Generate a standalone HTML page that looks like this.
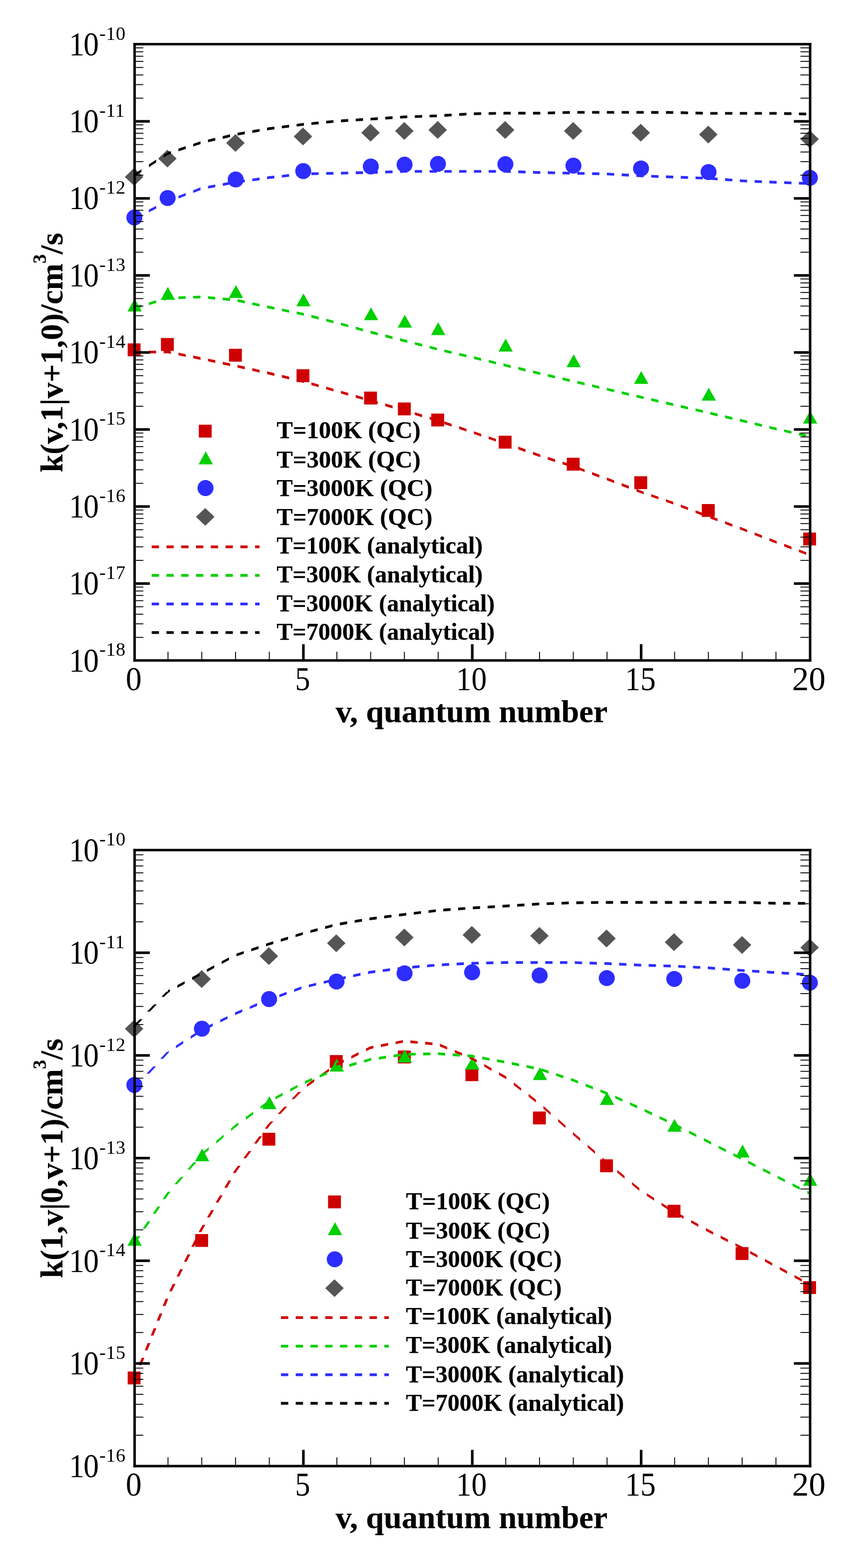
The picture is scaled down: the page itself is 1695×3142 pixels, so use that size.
<!DOCTYPE html>
<html lang="en"><head><meta charset="utf-8"><title>Rate coefficients vs quantum number</title>
<style>
html,body{margin:0;padding:0;background:#fff}
body{width:1695px;height:3142px;overflow:hidden}
svg{display:block}
text{font-family:"Liberation Serif","DejaVu Serif",serif;fill:#000}
.b{font-weight:bold}
.b{stroke:#000;stroke-width:0.25px}
</style></head><body>
<svg width="1695" height="3142" viewBox="0 0 1695 3142">
<rect width="1695" height="3142" fill="#fff"/>
<rect x="255.80" y="688.10" width="25.80" height="25.80" fill="#cf0000"/>
<rect x="322.47" y="677.30" width="25.80" height="25.80" fill="#cf0000"/>
<rect x="458.81" y="698.90" width="25.80" height="25.80" fill="#cf0000"/>
<rect x="594.15" y="739.90" width="25.80" height="25.80" fill="#cf0000"/>
<rect x="729.49" y="784.70" width="25.80" height="25.80" fill="#cf0000"/>
<rect x="797.16" y="806.50" width="25.80" height="25.80" fill="#cf0000"/>
<rect x="864.03" y="828.70" width="25.80" height="25.80" fill="#cf0000"/>
<rect x="999.17" y="873.10" width="25.80" height="25.80" fill="#cf0000"/>
<rect x="1135.51" y="917.30" width="25.80" height="25.80" fill="#cf0000"/>
<rect x="1270.85" y="954.30" width="25.80" height="25.80" fill="#cf0000"/>
<rect x="1406.19" y="1010.00" width="25.80" height="25.80" fill="#cf0000"/>
<rect x="1609.20" y="1067.20" width="25.80" height="25.80" fill="#cf0000"/>
<polygon points="269.70,598.50 284.00,624.30 255.40,624.30" fill="#00cf00"/>
<polygon points="336.37,574.90 350.67,600.70 322.07,600.70" fill="#00cf00"/>
<polygon points="472.71,571.20 487.01,597.00 458.41,597.00" fill="#00cf00"/>
<polygon points="608.05,587.90 622.35,613.70 593.75,613.70" fill="#00cf00"/>
<polygon points="743.39,615.80 757.69,641.60 729.09,641.60" fill="#00cf00"/>
<polygon points="811.06,630.70 825.36,656.50 796.76,656.50" fill="#00cf00"/>
<polygon points="877.93,645.70 892.23,671.50 863.63,671.50" fill="#00cf00"/>
<polygon points="1013.07,678.60 1027.37,704.40 998.77,704.40" fill="#00cf00"/>
<polygon points="1149.41,710.00 1163.71,735.80 1135.11,735.80" fill="#00cf00"/>
<polygon points="1284.75,743.40 1299.05,769.20 1270.45,769.20" fill="#00cf00"/>
<polygon points="1420.09,776.90 1434.39,802.70 1405.79,802.70" fill="#00cf00"/>
<polygon points="1623.10,822.90 1637.40,848.70 1608.80,848.70" fill="#00cf00"/>
<polygon points="285.09,439.06 282.67,444.90 278.20,449.37 272.36,451.79 266.04,451.79 260.20,449.37 255.73,444.90 253.31,439.06 253.31,432.74 255.73,426.90 260.20,422.43 266.04,420.01 272.36,420.01 278.20,422.43 282.67,426.90 285.09,432.74" fill="#2d2dff"/>
<polygon points="351.76,399.96 349.34,405.80 344.87,410.27 339.03,412.69 332.71,412.69 326.87,410.27 322.40,405.80 319.98,399.96 319.98,393.64 322.40,387.80 326.87,383.33 332.71,380.91 339.03,380.91 344.87,383.33 349.34,387.80 351.76,393.64" fill="#2d2dff"/>
<polygon points="488.10,362.86 485.68,368.70 481.21,373.17 475.37,375.59 469.05,375.59 463.21,373.17 458.74,368.70 456.32,362.86 456.32,356.54 458.74,350.70 463.21,346.23 469.05,343.81 475.37,343.81 481.21,346.23 485.68,350.70 488.10,356.54" fill="#2d2dff"/>
<polygon points="623.44,345.96 621.02,351.80 616.55,356.27 610.71,358.69 604.39,358.69 598.55,356.27 594.08,351.80 591.66,345.96 591.66,339.64 594.08,333.80 598.55,329.33 604.39,326.91 610.71,326.91 616.55,329.33 621.02,333.80 623.44,339.64" fill="#2d2dff"/>
<polygon points="758.78,336.76 756.36,342.60 751.89,347.07 746.05,349.49 739.73,349.49 733.89,347.07 729.42,342.60 727.00,336.76 727.00,330.44 729.42,324.60 733.89,320.13 739.73,317.71 746.05,317.71 751.89,320.13 756.36,324.60 758.78,330.44" fill="#2d2dff"/>
<polygon points="826.45,333.06 824.03,338.90 819.56,343.37 813.72,345.79 807.40,345.79 801.56,343.37 797.09,338.90 794.67,333.06 794.67,326.74 797.09,320.90 801.56,316.43 807.40,314.01 813.72,314.01 819.56,316.43 824.03,320.90 826.45,326.74" fill="#2d2dff"/>
<polygon points="893.32,331.56 890.90,337.40 886.43,341.87 880.59,344.29 874.27,344.29 868.43,341.87 863.96,337.40 861.54,331.56 861.54,325.24 863.96,319.40 868.43,314.93 874.27,312.51 880.59,312.51 886.43,314.93 890.90,319.40 893.32,325.24" fill="#2d2dff"/>
<polygon points="1028.46,332.16 1026.04,338.00 1021.57,342.47 1015.73,344.89 1009.41,344.89 1003.57,342.47 999.10,338.00 996.68,332.16 996.68,325.84 999.10,320.00 1003.57,315.53 1009.41,313.11 1015.73,313.11 1021.57,315.53 1026.04,320.00 1028.46,325.84" fill="#2d2dff"/>
<polygon points="1164.80,335.06 1162.38,340.90 1157.91,345.37 1152.07,347.79 1145.75,347.79 1139.91,345.37 1135.44,340.90 1133.02,335.06 1133.02,328.74 1135.44,322.90 1139.91,318.43 1145.75,316.01 1152.07,316.01 1157.91,318.43 1162.38,322.90 1164.80,328.74" fill="#2d2dff"/>
<polygon points="1300.14,340.76 1297.72,346.60 1293.25,351.07 1287.41,353.49 1281.09,353.49 1275.25,351.07 1270.78,346.60 1268.36,340.76 1268.36,334.44 1270.78,328.60 1275.25,324.13 1281.09,321.71 1287.41,321.71 1293.25,324.13 1297.72,328.60 1300.14,334.44" fill="#2d2dff"/>
<polygon points="1435.48,347.96 1433.06,353.80 1428.59,358.27 1422.75,360.69 1416.43,360.69 1410.59,358.27 1406.12,353.80 1403.70,347.96 1403.70,341.64 1406.12,335.80 1410.59,331.33 1416.43,328.91 1422.75,328.91 1428.59,331.33 1433.06,335.80 1435.48,341.64" fill="#2d2dff"/>
<polygon points="1638.49,359.46 1636.07,365.30 1631.60,369.77 1625.76,372.19 1619.44,372.19 1613.60,369.77 1609.13,365.30 1606.71,359.46 1606.71,353.14 1609.13,347.30 1613.60,342.83 1619.44,340.41 1625.76,340.41 1631.60,342.83 1636.07,347.30 1638.49,353.14" fill="#2d2dff"/>
<polygon points="268.70,336.70 287.20,354.50 268.70,372.30 250.20,354.50" fill="#555555"/>
<polygon points="335.37,300.00 353.87,317.80 335.37,335.60 316.87,317.80" fill="#555555"/>
<polygon points="471.71,268.70 490.21,286.50 471.71,304.30 453.21,286.50" fill="#555555"/>
<polygon points="607.05,255.60 625.55,273.40 607.05,291.20 588.55,273.40" fill="#555555"/>
<polygon points="742.39,248.10 760.89,265.90 742.39,283.70 723.89,265.90" fill="#555555"/>
<polygon points="810.06,244.60 828.56,262.40 810.06,280.20 791.56,262.40" fill="#555555"/>
<polygon points="876.93,242.60 895.43,260.40 876.93,278.20 858.43,260.40" fill="#555555"/>
<polygon points="1012.07,242.60 1030.57,260.40 1012.07,278.20 993.57,260.40" fill="#555555"/>
<polygon points="1148.41,244.60 1166.91,262.40 1148.41,280.20 1129.91,262.40" fill="#555555"/>
<polygon points="1283.75,248.10 1302.25,265.90 1283.75,283.70 1265.25,265.90" fill="#555555"/>
<polygon points="1419.09,251.80 1437.59,269.60 1419.09,287.40 1400.59,269.60" fill="#555555"/>
<polygon points="1622.10,261.00 1640.60,278.80 1622.10,296.60 1603.60,278.80" fill="#555555"/>
<path d="M268.70,703.10L283.30,702.97L283.30,708.37L268.70,708.50ZM298.30,702.84L312.90,702.71L312.90,708.11L298.30,708.24ZM327.90,702.58L336.37,702.50L336.37,707.90L327.90,707.98ZM336.37,702.50L342.50,703.72L342.50,709.12L336.37,707.90ZM357.50,706.72L372.10,709.63L372.10,715.03L357.50,712.12ZM387.10,712.62L401.70,715.53L401.70,720.93L387.10,718.02ZM416.70,718.69L431.30,721.80L431.30,727.20L416.70,724.09ZM446.30,724.99L460.90,728.10L460.90,733.50L446.30,730.39ZM475.90,731.32L490.50,734.54L490.50,739.94L475.90,736.72ZM505.50,737.84L520.10,741.05L520.10,746.45L505.50,743.24ZM535.10,744.36L539.38,745.30L539.38,750.70L535.10,749.76ZM539.38,745.30L549.70,747.77L549.70,753.17L539.38,750.70ZM564.70,751.36L579.30,754.86L579.30,760.26L564.70,756.76ZM594.30,758.45L607.05,761.50L607.05,766.90L594.30,763.85ZM607.05,761.50L608.90,762.03L608.90,767.43L607.05,766.90ZM623.90,766.31L638.50,770.47L638.50,775.87L623.90,771.71ZM653.50,774.75L668.10,778.91L668.10,784.31L653.50,780.15ZM683.10,783.18L697.70,787.32L697.70,792.72L683.10,788.58ZM712.70,791.58L727.30,795.72L727.30,801.12L712.70,796.98ZM742.30,799.97L742.39,800.00L742.39,805.40L742.30,805.37ZM742.39,800.00L756.90,804.20L756.90,809.60L742.39,805.40ZM771.90,808.55L786.50,812.78L786.50,818.18L771.90,813.95ZM801.50,817.12L810.06,819.60L810.06,825.00L801.50,822.52ZM810.06,819.60L816.10,821.45L816.10,826.85L810.06,825.00ZM831.10,826.04L845.70,830.50L845.70,835.90L831.10,831.44ZM860.70,835.09L875.30,839.56L875.30,844.96L860.70,840.49ZM890.30,844.48L904.90,849.33L904.90,854.73L890.30,849.88ZM919.90,854.32L934.50,859.18L934.50,864.58L919.90,859.72ZM949.50,864.21L964.10,869.24L964.10,874.64L949.50,869.61ZM979.10,874.40L993.70,879.43L993.70,884.83L979.10,879.80ZM1008.70,884.60L1013.07,886.10L1013.07,891.50L1008.70,890.00ZM1013.07,886.10L1023.30,889.73L1023.30,895.13L1013.07,891.50ZM1038.30,895.05L1052.90,900.23L1052.90,905.63L1038.30,900.45ZM1067.90,905.55L1080.74,910.10L1080.74,915.50L1067.90,910.95ZM1080.74,910.10L1082.50,910.67L1082.50,916.07L1080.74,915.50ZM1097.50,915.52L1112.10,920.25L1112.10,925.65L1097.50,920.92ZM1127.10,925.10L1141.70,929.83L1141.70,935.23L1127.10,930.50ZM1156.70,935.06L1171.30,940.46L1171.30,945.86L1156.70,940.46ZM1186.30,946.00L1200.90,951.39L1200.90,956.79L1186.30,951.40ZM1215.90,956.93L1216.08,957.00L1216.08,962.40L1215.90,962.33ZM1216.08,957.00L1230.50,962.52L1230.50,967.92L1216.08,962.40ZM1245.50,968.26L1260.10,973.85L1260.10,979.25L1245.50,973.66ZM1275.10,979.59L1283.75,982.90L1283.75,988.30L1275.10,984.99ZM1283.75,982.90L1289.70,984.96L1289.70,990.36L1283.75,988.30ZM1304.70,990.14L1319.30,995.19L1319.30,1000.59L1304.70,995.54ZM1334.30,1000.38L1348.90,1005.43L1348.90,1010.83L1334.30,1005.78ZM1363.90,1011.08L1378.50,1016.66L1378.50,1022.06L1363.90,1016.48ZM1393.50,1022.41L1408.10,1027.99L1408.10,1033.39L1393.50,1027.81ZM1423.10,1033.68L1437.70,1039.08L1437.70,1044.48L1423.10,1039.08ZM1452.70,1044.62L1467.30,1050.01L1467.30,1055.41L1452.70,1050.02ZM1482.30,1055.55L1486.76,1057.20L1486.76,1062.60L1482.30,1060.95ZM1486.76,1057.20L1496.90,1061.13L1496.90,1066.53L1486.76,1062.60ZM1511.90,1066.93L1526.50,1072.59L1526.50,1077.99L1511.90,1072.33ZM1541.50,1078.39L1554.43,1083.40L1554.43,1088.80L1541.50,1083.79ZM1554.43,1083.40L1556.10,1084.03L1556.10,1089.43L1554.43,1088.80ZM1571.10,1089.71L1585.70,1095.23L1585.70,1100.63L1571.10,1095.11ZM1600.70,1100.90L1615.30,1106.43L1615.30,1111.83L1600.70,1106.30Z" fill="#cf0000"/>
<path d="M268.70,614.90L283.30,610.52L283.30,615.92L268.70,620.30ZM298.30,606.02L312.90,601.64L312.90,607.04L298.30,611.42ZM327.90,597.14L336.37,594.60L336.37,600.00L327.90,602.54ZM336.37,594.60L342.50,594.39L342.50,599.79L336.37,600.00ZM357.50,593.88L372.10,593.39L372.10,598.79L357.50,599.28ZM387.10,592.88L401.70,592.38L401.70,597.78L387.10,598.28ZM416.70,593.48L431.30,594.84L431.30,600.24L416.70,598.88ZM446.30,596.23L460.90,597.59L460.90,602.99L446.30,601.63ZM475.90,599.49L490.50,602.60L490.50,608.00L475.90,604.89ZM505.50,605.79L520.10,608.90L520.10,614.30L505.50,611.19ZM535.10,612.09L539.38,613.00L539.38,618.40L535.10,617.49ZM539.38,613.00L549.70,615.10L549.70,620.50L539.38,618.40ZM564.70,618.16L579.30,621.14L579.30,626.54L564.70,623.56ZM594.30,624.20L607.05,626.80L607.05,632.20L594.30,629.60ZM607.05,626.80L608.90,627.27L608.90,632.67L607.05,632.20ZM623.90,631.11L638.50,634.84L638.50,640.24L623.90,636.51ZM653.50,638.68L668.10,642.41L668.10,647.81L653.50,644.08ZM683.10,646.42L697.70,650.45L697.70,655.85L683.10,651.82ZM712.70,654.60L727.30,658.63L727.30,664.03L712.70,660.00ZM742.30,662.78L742.39,662.80L742.39,668.20L742.30,668.18ZM742.39,662.80L756.90,666.49L756.90,671.89L742.39,668.20ZM771.90,670.30L786.50,674.01L786.50,679.41L771.90,675.70ZM801.50,677.82L810.06,680.00L810.06,685.40L801.50,683.22ZM810.06,680.00L816.10,681.54L816.10,686.94L810.06,685.40ZM831.10,685.38L845.70,689.11L845.70,694.51L831.10,690.78ZM860.70,692.95L875.30,696.68L875.30,702.08L860.70,698.35ZM890.30,700.23L904.90,703.64L904.90,709.04L890.30,705.63ZM919.90,707.15L934.50,710.56L934.50,715.96L919.90,712.55ZM949.50,714.08L964.10,717.58L964.10,722.98L949.50,719.48ZM979.10,721.17L993.70,724.66L993.70,730.06L979.10,726.57ZM1008.70,728.25L1013.07,729.30L1013.07,734.70L1008.70,733.65ZM1013.07,729.30L1023.30,731.75L1023.30,737.15L1013.07,734.70ZM1038.30,735.34L1052.90,738.84L1052.90,744.24L1038.30,740.74ZM1067.90,742.43L1080.74,745.50L1080.74,750.90L1067.90,747.83ZM1080.74,745.50L1082.50,745.91L1082.50,751.31L1080.74,750.90ZM1097.50,749.41L1112.10,752.82L1112.10,758.22L1097.50,754.81ZM1127.10,756.32L1141.70,759.73L1141.70,765.13L1127.10,761.72ZM1156.70,763.25L1171.30,766.68L1171.30,772.08L1156.70,768.65ZM1186.30,770.20L1200.90,773.63L1200.90,779.03L1186.30,775.60ZM1215.90,777.16L1216.08,777.20L1216.08,782.60L1215.90,782.56ZM1216.08,777.20L1230.50,780.57L1230.50,785.97L1216.08,782.60ZM1245.50,784.07L1260.10,787.48L1260.10,792.88L1245.50,789.47ZM1275.10,790.98L1283.75,793.00L1283.75,798.40L1275.10,796.38ZM1283.75,793.00L1289.70,794.38L1289.70,799.78L1283.75,798.40ZM1304.70,797.86L1319.30,801.25L1319.30,806.65L1304.70,803.26ZM1334.30,804.73L1348.90,808.12L1348.90,813.52L1334.30,810.13ZM1363.90,811.60L1378.50,814.98L1378.50,820.38L1363.90,817.00ZM1393.50,818.46L1408.10,821.85L1408.10,827.25L1393.50,823.86ZM1423.10,825.34L1437.70,828.77L1437.70,834.17L1423.10,830.74ZM1452.70,832.30L1467.30,835.73L1467.30,841.13L1452.70,837.70ZM1482.30,839.25L1486.76,840.30L1486.76,845.70L1482.30,844.65ZM1486.76,840.30L1496.90,842.76L1496.90,848.16L1486.76,845.70ZM1511.90,846.39L1526.50,849.93L1526.50,855.33L1511.90,851.79ZM1541.50,853.57L1554.43,856.70L1554.43,862.10L1541.50,858.97ZM1554.43,856.70L1556.10,857.08L1556.10,862.48L1554.43,862.10ZM1571.10,860.44L1585.70,863.72L1585.70,869.12L1571.10,865.84ZM1600.70,867.09L1615.30,870.37L1615.30,875.77L1600.70,872.49Z" fill="#00cf00"/>
<path d="M268.70,435.30L283.30,427.79L283.30,433.19L268.70,440.70ZM298.30,420.08L312.90,412.57L312.90,417.97L298.30,425.48ZM327.90,404.86L336.37,400.50L336.37,405.90L327.90,410.26ZM336.37,400.50L342.50,398.16L342.50,403.56L336.37,405.90ZM357.50,392.44L372.10,386.88L372.10,392.28L357.50,397.84ZM387.10,381.16L401.70,375.59L401.70,380.99L387.10,386.56ZM416.70,372.40L431.30,369.75L431.30,375.15L416.70,377.80ZM446.30,367.02L460.90,364.36L460.90,369.76L446.30,372.42ZM475.90,361.82L490.50,359.82L490.50,365.22L475.90,367.22ZM505.50,357.76L520.10,355.75L520.10,361.15L505.50,363.16ZM535.10,353.69L539.38,353.10L539.38,358.50L535.10,359.09ZM539.38,353.10L549.70,352.00L549.70,357.40L539.38,358.50ZM564.70,350.41L579.30,348.85L579.30,354.25L564.70,355.81ZM594.30,347.26L607.05,345.90L607.05,351.30L594.30,352.66ZM607.05,345.90L608.90,345.86L608.90,351.26L607.05,351.30ZM623.90,345.53L638.50,345.20L638.50,350.60L623.90,350.93ZM653.50,344.87L668.10,344.55L668.10,349.95L653.50,350.27ZM683.10,344.23L697.70,343.92L697.70,349.32L683.10,349.63ZM712.70,343.61L727.30,343.31L727.30,348.71L712.70,349.01ZM742.30,343.00L742.39,343.00L742.39,348.40L742.30,348.40ZM742.39,343.00L756.90,342.51L756.90,347.91L742.39,348.40ZM771.90,342.00L786.50,341.50L786.50,346.90L771.90,347.40ZM801.50,340.99L810.06,340.70L810.06,346.10L801.50,346.39ZM810.06,340.70L816.10,340.70L816.10,346.10L810.06,346.10ZM831.10,340.70L845.70,340.70L845.70,346.10L831.10,346.10ZM860.70,340.70L875.30,340.70L875.30,346.10L860.70,346.10ZM890.30,340.70L904.90,340.70L904.90,346.10L890.30,346.10ZM919.90,340.70L934.50,340.70L934.50,346.10L919.90,346.10ZM949.50,340.70L964.10,340.70L964.10,346.10L949.50,346.10ZM979.10,340.70L993.70,340.70L993.70,346.10L979.10,346.10ZM1008.70,340.70L1013.07,340.70L1013.07,346.10L1008.70,346.10ZM1013.07,340.70L1023.30,341.05L1023.30,346.45L1013.07,346.10ZM1038.30,341.56L1052.90,342.05L1052.90,347.45L1038.30,346.96ZM1067.90,342.56L1080.74,343.00L1080.74,348.40L1067.90,347.96ZM1080.74,343.00L1082.50,343.04L1082.50,348.44L1080.74,348.40ZM1097.50,343.35L1112.10,343.65L1112.10,349.05L1097.50,348.75ZM1127.10,343.96L1141.70,344.26L1141.70,349.66L1127.10,349.36ZM1156.70,344.58L1171.30,344.91L1171.30,350.31L1156.70,349.98ZM1186.30,345.24L1200.90,345.56L1200.90,350.96L1186.30,350.64ZM1215.90,345.90L1216.08,345.90L1216.08,351.30L1215.90,351.30ZM1216.08,345.90L1230.50,346.71L1230.50,352.11L1216.08,351.30ZM1245.50,347.55L1260.10,348.37L1260.10,353.77L1245.50,352.95ZM1275.10,349.21L1283.75,349.70L1283.75,355.10L1275.10,354.61ZM1283.75,349.70L1289.70,349.92L1289.70,355.32L1283.75,355.10ZM1304.70,350.47L1319.30,351.01L1319.30,356.41L1304.70,355.87ZM1334.30,351.57L1348.90,352.11L1348.90,357.51L1334.30,356.97ZM1363.90,352.62L1378.50,353.12L1378.50,358.52L1363.90,358.02ZM1393.50,353.63L1408.10,354.13L1408.10,359.53L1393.50,359.03ZM1423.10,354.81L1437.70,355.93L1437.70,361.33L1423.10,360.21ZM1452.70,357.08L1467.30,358.20L1467.30,363.60L1452.70,362.48ZM1482.30,359.36L1486.76,359.70L1486.76,365.10L1482.30,364.76ZM1486.76,359.70L1496.90,360.13L1496.90,365.53L1486.76,365.10ZM1511.90,360.78L1526.50,361.40L1526.50,366.80L1511.90,366.18ZM1541.50,362.05L1554.43,362.60L1554.43,368.00L1541.50,367.45ZM1554.43,362.60L1556.10,362.66L1556.10,368.06L1554.43,368.00ZM1571.10,363.22L1585.70,363.76L1585.70,369.16L1571.10,368.62ZM1600.70,364.31L1615.30,364.85L1615.30,370.25L1600.70,369.71Z" fill="#2d2dff"/>
<path d="M268.70,348.80L283.30,339.31L283.30,344.71L268.70,354.20ZM298.30,329.55L312.90,320.06L312.90,325.46L298.30,334.95ZM327.90,310.31L336.37,304.80L336.37,310.20L327.90,315.71ZM336.37,304.80L342.50,302.79L342.50,308.19L336.37,310.20ZM357.50,297.87L372.10,293.08L372.10,298.48L357.50,303.27ZM387.10,288.16L401.70,283.37L401.70,288.77L387.10,293.56ZM416.70,279.64L431.30,276.24L431.30,281.64L416.70,285.04ZM446.30,272.73L460.90,269.32L460.90,274.72L446.30,278.13ZM475.90,266.08L490.50,263.55L490.50,268.95L475.90,271.48ZM505.50,260.96L520.10,258.43L520.10,263.83L505.50,266.36ZM535.10,255.84L539.38,255.10L539.38,260.50L535.10,261.24ZM539.38,255.10L549.70,253.80L549.70,259.20L539.38,260.50ZM564.70,251.92L579.30,250.09L579.30,255.49L564.70,257.32ZM594.30,248.20L607.05,246.60L607.05,252.00L594.30,253.60ZM607.05,246.60L608.90,246.42L608.90,251.82L607.05,252.00ZM623.90,244.96L638.50,243.53L638.50,248.93L623.90,250.36ZM653.50,242.07L668.10,240.65L668.10,246.05L653.50,247.47ZM683.10,239.49L697.70,238.61L697.70,244.01L683.10,244.89ZM712.70,237.70L727.30,236.81L727.30,242.21L712.70,243.10ZM742.30,235.91L742.39,235.90L742.39,241.30L742.30,241.31ZM742.39,235.90L756.90,234.98L756.90,240.38L742.39,241.30ZM771.90,234.02L786.50,233.10L786.50,238.50L771.90,239.42ZM801.50,232.14L810.06,231.60L810.06,237.00L801.50,237.54ZM810.06,231.60L816.10,231.39L816.10,236.79L810.06,237.00ZM831.10,230.88L845.70,230.39L845.70,235.79L831.10,236.28ZM860.70,229.88L875.30,229.38L875.30,234.78L860.70,235.28ZM890.30,228.56L904.90,227.69L904.90,233.09L890.30,233.96ZM919.90,226.81L934.50,225.94L934.50,231.34L919.90,232.21ZM949.50,225.23L964.10,224.97L964.10,230.37L949.50,230.63ZM979.10,224.70L993.70,224.44L993.70,229.84L979.10,230.10ZM1008.70,224.18L1013.07,224.10L1013.07,229.50L1008.70,229.58ZM1013.07,224.10L1023.30,224.10L1023.30,229.50L1013.07,229.50ZM1038.30,224.10L1052.90,224.10L1052.90,229.50L1038.30,229.50ZM1067.90,224.10L1080.74,224.10L1080.74,229.50L1067.90,229.50ZM1080.74,224.10L1082.50,224.06L1082.50,229.46L1080.74,229.50ZM1097.50,223.68L1112.10,223.31L1112.10,228.71L1097.50,229.08ZM1127.10,222.94L1141.70,222.57L1141.70,227.97L1127.10,228.34ZM1156.70,222.40L1171.30,222.40L1171.30,227.80L1156.70,227.80ZM1186.30,222.40L1200.90,222.40L1200.90,227.80L1186.30,227.80ZM1215.90,222.40L1216.08,222.40L1216.08,227.80L1215.90,227.80ZM1216.08,222.40L1230.50,222.40L1230.50,227.80L1216.08,227.80ZM1245.50,222.40L1260.10,222.40L1260.10,227.80L1245.50,227.80ZM1275.10,222.40L1283.75,222.40L1283.75,227.80L1275.10,227.80ZM1283.75,222.40L1289.70,222.43L1289.70,227.83L1283.75,227.80ZM1304.70,222.49L1319.30,222.56L1319.30,227.96L1304.70,227.89ZM1334.30,222.62L1348.90,222.69L1348.90,228.09L1334.30,228.02ZM1363.90,223.01L1378.50,223.38L1378.50,228.78L1363.90,228.41ZM1393.50,223.76L1408.10,224.12L1408.10,229.52L1393.50,229.16ZM1423.10,224.40L1437.70,224.40L1437.70,229.80L1423.10,229.80ZM1452.70,224.40L1467.30,224.40L1467.30,229.80L1452.70,229.80ZM1482.30,224.40L1486.76,224.40L1486.76,229.80L1482.30,229.80ZM1486.76,224.40L1496.90,224.40L1496.90,229.80L1486.76,229.80ZM1511.90,224.40L1526.50,224.40L1526.50,229.80L1511.90,229.80ZM1541.50,224.40L1554.43,224.40L1554.43,229.80L1541.50,229.80ZM1554.43,224.40L1556.10,224.44L1556.10,229.84L1554.43,229.80ZM1571.10,224.77L1585.70,225.09L1585.70,230.49L1571.10,230.17ZM1600.70,225.43L1615.30,225.75L1615.30,231.15L1600.70,230.83Z" fill="#000000"/>
<rect x="398.30" y="851.00" width="25.80" height="25.80" fill="#cf0000"/>
<text class="b lg" x="554.30" y="878.00" font-size="48" textLength="288.5" lengthAdjust="spacingAndGlyphs">T=100K (QC)</text>
<polygon points="412.20,904.60 426.50,930.40 397.90,930.40" fill="#00cf00"/>
<text class="b lg" x="554.30" y="937.10" font-size="48" textLength="288.5" lengthAdjust="spacingAndGlyphs">T=300K (QC)</text>
<polygon points="427.59,981.16 425.17,987.00 420.70,991.47 414.86,993.89 408.54,993.89 402.70,991.47 398.23,987.00 395.81,981.16 395.81,974.84 398.23,969.00 402.70,964.53 408.54,962.11 414.86,962.11 420.70,964.53 425.17,969.00 427.59,974.84" fill="#2d2dff"/>
<text class="b lg" x="554.30" y="994.20" font-size="48" textLength="312" lengthAdjust="spacingAndGlyphs">T=3000K (QC)</text>
<polygon points="411.20,1018.00 429.70,1035.80 411.20,1053.60 392.70,1035.80" fill="#555555"/>
<text class="b lg" x="554.30" y="1051.80" font-size="48" textLength="312" lengthAdjust="spacingAndGlyphs">T=7000K (QC)</text>
<path d="M303.90,1092.95L318.50,1092.95L318.50,1098.45L303.90,1098.45ZM333.50,1092.95L348.10,1092.95L348.10,1098.45L333.50,1098.45ZM363.10,1092.95L377.70,1092.95L377.70,1098.45L363.10,1098.45ZM392.70,1092.95L407.30,1092.95L407.30,1098.45L392.70,1098.45ZM422.30,1092.95L436.90,1092.95L436.90,1098.45L422.30,1098.45ZM451.90,1092.95L466.50,1092.95L466.50,1098.45L451.90,1098.45ZM481.50,1092.95L496.10,1092.95L496.10,1098.45L481.50,1098.45ZM511.10,1092.95L520.00,1092.95L520.00,1098.45L511.10,1098.45Z" fill="#cf0000"/>
<text class="b lg" x="554.30" y="1108.50" font-size="48" textLength="413" lengthAdjust="spacingAndGlyphs">T=100K (analytical)</text>
<path d="M303.90,1150.35L318.50,1150.35L318.50,1155.85L303.90,1155.85ZM333.50,1150.35L348.10,1150.35L348.10,1155.85L333.50,1155.85ZM363.10,1150.35L377.70,1150.35L377.70,1155.85L363.10,1155.85ZM392.70,1150.35L407.30,1150.35L407.30,1155.85L392.70,1155.85ZM422.30,1150.35L436.90,1150.35L436.90,1155.85L422.30,1155.85ZM451.90,1150.35L466.50,1150.35L466.50,1155.85L451.90,1155.85ZM481.50,1150.35L496.10,1150.35L496.10,1155.85L481.50,1155.85ZM511.10,1150.35L520.00,1150.35L520.00,1155.85L511.10,1155.85Z" fill="#00cf00"/>
<text class="b lg" x="554.30" y="1166.90" font-size="48" textLength="413" lengthAdjust="spacingAndGlyphs">T=300K (analytical)</text>
<path d="M303.90,1207.55L318.50,1207.55L318.50,1213.05L303.90,1213.05ZM333.50,1207.55L348.10,1207.55L348.10,1213.05L333.50,1213.05ZM363.10,1207.55L377.70,1207.55L377.70,1213.05L363.10,1213.05ZM392.70,1207.55L407.30,1207.55L407.30,1213.05L392.70,1213.05ZM422.30,1207.55L436.90,1207.55L436.90,1213.05L422.30,1213.05ZM451.90,1207.55L466.50,1207.55L466.50,1213.05L451.90,1213.05ZM481.50,1207.55L496.10,1207.55L496.10,1213.05L481.50,1213.05ZM511.10,1207.55L520.00,1207.55L520.00,1213.05L511.10,1213.05Z" fill="#2d2dff"/>
<text class="b lg" x="554.30" y="1225.10" font-size="48" textLength="437" lengthAdjust="spacingAndGlyphs">T=3000K (analytical)</text>
<path d="M303.90,1264.75L318.50,1264.75L318.50,1270.25L303.90,1270.25ZM333.50,1264.75L348.10,1264.75L348.10,1270.25L333.50,1270.25ZM363.10,1264.75L377.70,1264.75L377.70,1270.25L363.10,1270.25ZM392.70,1264.75L407.30,1264.75L407.30,1270.25L392.70,1270.25ZM422.30,1264.75L436.90,1264.75L436.90,1270.25L422.30,1270.25ZM451.90,1264.75L466.50,1264.75L466.50,1270.25L451.90,1270.25ZM481.50,1264.75L496.10,1264.75L496.10,1270.25L481.50,1270.25ZM511.10,1264.75L520.00,1264.75L520.00,1270.25L511.10,1270.25Z" fill="#000000"/>
<text class="b lg" x="554.30" y="1282.30" font-size="48" textLength="437" lengthAdjust="spacingAndGlyphs">T=7000K (analytical)</text>
<g fill="#000"><rect x="272.20" y="195.79" width="15.00" height="1.8"/><rect x="1603.60" y="195.79" width="17.00" height="1.8"/><rect x="272.20" y="168.61" width="15.00" height="1.8"/><rect x="1603.60" y="168.61" width="17.00" height="1.8"/><rect x="272.20" y="149.33" width="15.00" height="1.8"/><rect x="1603.60" y="149.33" width="17.00" height="1.8"/><rect x="272.20" y="134.37" width="15.00" height="1.8"/><rect x="1603.60" y="134.37" width="17.00" height="1.8"/><rect x="272.20" y="122.15" width="15.00" height="1.8"/><rect x="1603.60" y="122.15" width="17.00" height="1.8"/><rect x="272.20" y="111.81" width="15.00" height="1.8"/><rect x="1603.60" y="111.81" width="17.00" height="1.8"/><rect x="272.20" y="102.86" width="15.00" height="1.8"/><rect x="1603.60" y="102.86" width="17.00" height="1.8"/><rect x="272.20" y="94.96" width="15.00" height="1.8"/><rect x="1603.60" y="94.96" width="17.00" height="1.8"/><rect x="272.20" y="240.56" width="28.00" height="5.2"/><rect x="1590.60" y="240.56" width="30.00" height="5.2"/><rect x="272.20" y="350.16" width="15.00" height="1.8"/><rect x="1603.60" y="350.16" width="17.00" height="1.8"/><rect x="272.20" y="322.98" width="15.00" height="1.8"/><rect x="1603.60" y="322.98" width="17.00" height="1.8"/><rect x="272.20" y="303.69" width="15.00" height="1.8"/><rect x="1603.60" y="303.69" width="17.00" height="1.8"/><rect x="272.20" y="288.73" width="15.00" height="1.8"/><rect x="1603.60" y="288.73" width="17.00" height="1.8"/><rect x="272.20" y="276.51" width="15.00" height="1.8"/><rect x="1603.60" y="276.51" width="17.00" height="1.8"/><rect x="272.20" y="266.17" width="15.00" height="1.8"/><rect x="1603.60" y="266.17" width="17.00" height="1.8"/><rect x="272.20" y="257.22" width="15.00" height="1.8"/><rect x="1603.60" y="257.22" width="17.00" height="1.8"/><rect x="272.20" y="249.33" width="15.00" height="1.8"/><rect x="1603.60" y="249.33" width="17.00" height="1.8"/><rect x="272.20" y="394.93" width="28.00" height="5.2"/><rect x="1590.60" y="394.93" width="30.00" height="5.2"/><rect x="272.20" y="504.52" width="15.00" height="1.8"/><rect x="1603.60" y="504.52" width="17.00" height="1.8"/><rect x="272.20" y="477.34" width="15.00" height="1.8"/><rect x="1603.60" y="477.34" width="17.00" height="1.8"/><rect x="272.20" y="458.05" width="15.00" height="1.8"/><rect x="1603.60" y="458.05" width="17.00" height="1.8"/><rect x="272.20" y="443.09" width="15.00" height="1.8"/><rect x="1603.60" y="443.09" width="17.00" height="1.8"/><rect x="272.20" y="430.87" width="15.00" height="1.8"/><rect x="1603.60" y="430.87" width="17.00" height="1.8"/><rect x="272.20" y="420.54" width="15.00" height="1.8"/><rect x="1603.60" y="420.54" width="17.00" height="1.8"/><rect x="272.20" y="411.58" width="15.00" height="1.8"/><rect x="1603.60" y="411.58" width="17.00" height="1.8"/><rect x="272.20" y="403.69" width="15.00" height="1.8"/><rect x="1603.60" y="403.69" width="17.00" height="1.8"/><rect x="272.20" y="549.29" width="28.00" height="5.2"/><rect x="1590.60" y="549.29" width="30.00" height="5.2"/><rect x="272.20" y="658.88" width="15.00" height="1.8"/><rect x="1603.60" y="658.88" width="17.00" height="1.8"/><rect x="272.20" y="631.70" width="15.00" height="1.8"/><rect x="1603.60" y="631.70" width="17.00" height="1.8"/><rect x="272.20" y="612.41" width="15.00" height="1.8"/><rect x="1603.60" y="612.41" width="17.00" height="1.8"/><rect x="272.20" y="597.46" width="15.00" height="1.8"/><rect x="1603.60" y="597.46" width="17.00" height="1.8"/><rect x="272.20" y="585.23" width="15.00" height="1.8"/><rect x="1603.60" y="585.23" width="17.00" height="1.8"/><rect x="272.20" y="574.90" width="15.00" height="1.8"/><rect x="1603.60" y="574.90" width="17.00" height="1.8"/><rect x="272.20" y="565.95" width="15.00" height="1.8"/><rect x="1603.60" y="565.95" width="17.00" height="1.8"/><rect x="272.20" y="558.05" width="15.00" height="1.8"/><rect x="1603.60" y="558.05" width="17.00" height="1.8"/><rect x="272.20" y="703.65" width="28.00" height="5.2"/><rect x="1590.60" y="703.65" width="30.00" height="5.2"/><rect x="272.20" y="813.24" width="15.00" height="1.8"/><rect x="1603.60" y="813.24" width="17.00" height="1.8"/><rect x="272.20" y="786.06" width="15.00" height="1.8"/><rect x="1603.60" y="786.06" width="17.00" height="1.8"/><rect x="272.20" y="766.78" width="15.00" height="1.8"/><rect x="1603.60" y="766.78" width="17.00" height="1.8"/><rect x="272.20" y="751.82" width="15.00" height="1.8"/><rect x="1603.60" y="751.82" width="17.00" height="1.8"/><rect x="272.20" y="739.60" width="15.00" height="1.8"/><rect x="1603.60" y="739.60" width="17.00" height="1.8"/><rect x="272.20" y="729.26" width="15.00" height="1.8"/><rect x="1603.60" y="729.26" width="17.00" height="1.8"/><rect x="272.20" y="720.31" width="15.00" height="1.8"/><rect x="1603.60" y="720.31" width="17.00" height="1.8"/><rect x="272.20" y="712.41" width="15.00" height="1.8"/><rect x="1603.60" y="712.41" width="17.00" height="1.8"/><rect x="272.20" y="858.01" width="28.00" height="5.2"/><rect x="1590.60" y="858.01" width="30.00" height="5.2"/><rect x="272.20" y="967.61" width="15.00" height="1.8"/><rect x="1603.60" y="967.61" width="17.00" height="1.8"/><rect x="272.20" y="940.43" width="15.00" height="1.8"/><rect x="1603.60" y="940.43" width="17.00" height="1.8"/><rect x="272.20" y="921.14" width="15.00" height="1.8"/><rect x="1603.60" y="921.14" width="17.00" height="1.8"/><rect x="272.20" y="906.18" width="15.00" height="1.8"/><rect x="1603.60" y="906.18" width="17.00" height="1.8"/><rect x="272.20" y="893.96" width="15.00" height="1.8"/><rect x="1603.60" y="893.96" width="17.00" height="1.8"/><rect x="272.20" y="883.62" width="15.00" height="1.8"/><rect x="1603.60" y="883.62" width="17.00" height="1.8"/><rect x="272.20" y="874.67" width="15.00" height="1.8"/><rect x="1603.60" y="874.67" width="17.00" height="1.8"/><rect x="272.20" y="866.78" width="15.00" height="1.8"/><rect x="1603.60" y="866.78" width="17.00" height="1.8"/><rect x="272.20" y="1012.38" width="28.00" height="5.2"/><rect x="1590.60" y="1012.38" width="30.00" height="5.2"/><rect x="272.20" y="1121.97" width="15.00" height="1.8"/><rect x="1603.60" y="1121.97" width="17.00" height="1.8"/><rect x="272.20" y="1094.79" width="15.00" height="1.8"/><rect x="1603.60" y="1094.79" width="17.00" height="1.8"/><rect x="272.20" y="1075.50" width="15.00" height="1.8"/><rect x="1603.60" y="1075.50" width="17.00" height="1.8"/><rect x="272.20" y="1060.54" width="15.00" height="1.8"/><rect x="1603.60" y="1060.54" width="17.00" height="1.8"/><rect x="272.20" y="1048.32" width="15.00" height="1.8"/><rect x="1603.60" y="1048.32" width="17.00" height="1.8"/><rect x="272.20" y="1037.99" width="15.00" height="1.8"/><rect x="1603.60" y="1037.99" width="17.00" height="1.8"/><rect x="272.20" y="1029.03" width="15.00" height="1.8"/><rect x="1603.60" y="1029.03" width="17.00" height="1.8"/><rect x="272.20" y="1021.14" width="15.00" height="1.8"/><rect x="1603.60" y="1021.14" width="17.00" height="1.8"/><rect x="272.20" y="1166.74" width="28.00" height="5.2"/><rect x="1590.60" y="1166.74" width="30.00" height="5.2"/><rect x="272.20" y="1276.33" width="15.00" height="1.8"/><rect x="1603.60" y="1276.33" width="17.00" height="1.8"/><rect x="272.20" y="1249.15" width="15.00" height="1.8"/><rect x="1603.60" y="1249.15" width="17.00" height="1.8"/><rect x="272.20" y="1229.86" width="15.00" height="1.8"/><rect x="1603.60" y="1229.86" width="17.00" height="1.8"/><rect x="272.20" y="1214.91" width="15.00" height="1.8"/><rect x="1603.60" y="1214.91" width="17.00" height="1.8"/><rect x="272.20" y="1202.68" width="15.00" height="1.8"/><rect x="1603.60" y="1202.68" width="17.00" height="1.8"/><rect x="272.20" y="1192.35" width="15.00" height="1.8"/><rect x="1603.60" y="1192.35" width="17.00" height="1.8"/><rect x="272.20" y="1183.40" width="15.00" height="1.8"/><rect x="1603.60" y="1183.40" width="17.00" height="1.8"/><rect x="272.20" y="1175.50" width="15.00" height="1.8"/><rect x="1603.60" y="1175.50" width="17.00" height="1.8"/><rect x="335.67" y="1305.90" width="1.8" height="15.00"/><rect x="403.34" y="1305.90" width="1.8" height="15.00"/><rect x="471.01" y="1305.90" width="1.8" height="15.00"/><rect x="538.68" y="1305.90" width="1.8" height="15.00"/><rect x="605.25" y="1290.90" width="5.2" height="30.00"/><rect x="674.02" y="1305.90" width="1.8" height="15.00"/><rect x="741.69" y="1305.90" width="1.8" height="15.00"/><rect x="809.36" y="1305.90" width="1.8" height="15.00"/><rect x="877.03" y="1305.90" width="1.8" height="15.00"/><rect x="943.60" y="1290.90" width="5.2" height="30.00"/><rect x="1012.37" y="1305.90" width="1.8" height="15.00"/><rect x="1080.04" y="1305.90" width="1.8" height="15.00"/><rect x="1147.71" y="1305.90" width="1.8" height="15.00"/><rect x="1215.38" y="1305.90" width="1.8" height="15.00"/><rect x="1281.95" y="1290.90" width="5.2" height="30.00"/><rect x="1350.72" y="1305.90" width="1.8" height="15.00"/><rect x="1418.39" y="1305.90" width="1.8" height="15.00"/><rect x="1486.06" y="1305.90" width="1.8" height="15.00"/><rect x="1553.73" y="1305.90" width="1.8" height="15.00"/></g>
<g fill="#000"><rect x="267.20" y="86.00" width="5.0" height="1239.90"/><rect x="1620.60" y="86.00" width="5.0" height="1239.90"/><rect x="267.20" y="86.00" width="1358.40" height="5.0"/><rect x="267.20" y="1320.90" width="1358.40" height="5.0"/></g>
<g class="tl"><text transform="translate(138.2,110.70) scale(0.92,1)" font-size="67" letter-spacing="-2">10</text><text x="198.9" y="79.50" font-size="38.6" letter-spacing="0.5">-10</text><text transform="translate(138.2,265.06) scale(0.92,1)" font-size="67" letter-spacing="-2">10</text><text x="198.9" y="233.86" font-size="38.6" letter-spacing="0.5">-11</text><text transform="translate(138.2,419.43) scale(0.92,1)" font-size="67" letter-spacing="-2">10</text><text x="198.9" y="388.23" font-size="38.6" letter-spacing="0.5">-12</text><text transform="translate(138.2,573.79) scale(0.92,1)" font-size="67" letter-spacing="-2">10</text><text x="198.9" y="542.59" font-size="38.6" letter-spacing="0.5">-13</text><text transform="translate(138.2,728.15) scale(0.92,1)" font-size="67" letter-spacing="-2">10</text><text x="198.9" y="696.95" font-size="38.6" letter-spacing="0.5">-14</text><text transform="translate(138.2,882.51) scale(0.92,1)" font-size="67" letter-spacing="-2">10</text><text x="198.9" y="851.31" font-size="38.6" letter-spacing="0.5">-15</text><text transform="translate(138.2,1036.88) scale(0.92,1)" font-size="67" letter-spacing="-2">10</text><text x="198.9" y="1005.68" font-size="38.6" letter-spacing="0.5">-16</text><text transform="translate(138.2,1191.24) scale(0.92,1)" font-size="67" letter-spacing="-2">10</text><text x="198.9" y="1160.04" font-size="38.6" letter-spacing="0.5">-17</text><text transform="translate(138.2,1345.60) scale(0.92,1)" font-size="67" letter-spacing="-2">10</text><text x="198.9" y="1314.40" font-size="38.6" letter-spacing="0.5">-18</text><text transform="translate(267.90,1383.00) scale(0.95,1)" font-size="67" text-anchor="middle">0</text><text transform="translate(606.25,1383.00) scale(0.9,1)" font-size="67" text-anchor="middle">5</text><text transform="translate(944.60,1383.00) scale(0.92,1)" font-size="67" text-anchor="middle">10</text><text transform="translate(1282.95,1383.00) scale(0.92,1)" font-size="67" text-anchor="middle">15</text><text transform="translate(1620.50,1383.00) scale(1.0,1)" font-size="67" text-anchor="middle">20</text></g>
<text class="b" x="944.90" y="1447.30" font-size="64" text-anchor="middle" textLength="545" lengthAdjust="spacingAndGlyphs">v, quantum number</text>
<text class="b" transform="translate(124.6,706.55) rotate(-90)" font-size="64" text-anchor="middle" textLength="480" lengthAdjust="spacingAndGlyphs">k(v,1|v+1,0)/cm<tspan font-size="37" dy="-33">3</tspan><tspan dy="33">/s</tspan></text>
<rect x="255.80" y="2748.30" width="25.80" height="25.80" fill="#cf0000"/>
<rect x="391.14" y="2472.80" width="25.80" height="25.80" fill="#cf0000"/>
<rect x="525.78" y="2269.90" width="25.80" height="25.80" fill="#cf0000"/>
<rect x="660.82" y="2114.20" width="25.80" height="25.80" fill="#cf0000"/>
<rect x="797.16" y="2105.10" width="25.80" height="25.80" fill="#cf0000"/>
<rect x="932.50" y="2140.60" width="25.80" height="25.80" fill="#cf0000"/>
<rect x="1067.84" y="2227.30" width="25.80" height="25.80" fill="#cf0000"/>
<rect x="1202.28" y="2323.10" width="25.80" height="25.80" fill="#cf0000"/>
<rect x="1337.52" y="2414.20" width="25.80" height="25.80" fill="#cf0000"/>
<rect x="1473.86" y="2499.00" width="25.80" height="25.80" fill="#cf0000"/>
<rect x="1609.20" y="2567.20" width="25.80" height="25.80" fill="#cf0000"/>
<polygon points="269.70,2470.40 284.00,2496.20 255.40,2496.20" fill="#00cf00"/>
<polygon points="405.04,2301.30 419.34,2327.10 390.74,2327.10" fill="#00cf00"/>
<polygon points="539.68,2196.70 553.98,2222.50 525.38,2222.50" fill="#00cf00"/>
<polygon points="674.72,2121.50 689.02,2147.30 660.42,2147.30" fill="#00cf00"/>
<polygon points="811.06,2103.10 825.36,2128.90 796.76,2128.90" fill="#00cf00"/>
<polygon points="946.40,2117.50 960.70,2143.30 932.10,2143.30" fill="#00cf00"/>
<polygon points="1081.74,2138.40 1096.04,2164.20 1067.44,2164.20" fill="#00cf00"/>
<polygon points="1216.18,2188.20 1230.48,2214.00 1201.88,2214.00" fill="#00cf00"/>
<polygon points="1351.42,2241.90 1365.72,2267.70 1337.12,2267.70" fill="#00cf00"/>
<polygon points="1487.76,2293.60 1502.06,2319.40 1473.46,2319.40" fill="#00cf00"/>
<polygon points="1623.10,2350.30 1637.40,2376.10 1608.80,2376.10" fill="#00cf00"/>
<polygon points="285.09,2177.26 282.67,2183.10 278.20,2187.57 272.36,2189.99 266.04,2189.99 260.20,2187.57 255.73,2183.10 253.31,2177.26 253.31,2170.94 255.73,2165.10 260.20,2160.63 266.04,2158.21 272.36,2158.21 278.20,2160.63 282.67,2165.10 285.09,2170.94" fill="#2d2dff"/>
<polygon points="420.43,2064.46 418.01,2070.30 413.54,2074.77 407.70,2077.19 401.38,2077.19 395.54,2074.77 391.07,2070.30 388.65,2064.46 388.65,2058.14 391.07,2052.30 395.54,2047.83 401.38,2045.41 407.70,2045.41 413.54,2047.83 418.01,2052.30 420.43,2058.14" fill="#2d2dff"/>
<polygon points="555.07,2005.16 552.65,2011.00 548.18,2015.47 542.34,2017.89 536.02,2017.89 530.18,2015.47 525.71,2011.00 523.29,2005.16 523.29,1998.84 525.71,1993.00 530.18,1988.53 536.02,1986.11 542.34,1986.11 548.18,1988.53 552.65,1993.00 555.07,1998.84" fill="#2d2dff"/>
<polygon points="690.11,1969.96 687.69,1975.80 683.22,1980.27 677.38,1982.69 671.06,1982.69 665.22,1980.27 660.75,1975.80 658.33,1969.96 658.33,1963.64 660.75,1957.80 665.22,1953.33 671.06,1950.91 677.38,1950.91 683.22,1953.33 687.69,1957.80 690.11,1963.64" fill="#2d2dff"/>
<polygon points="826.45,1953.56 824.03,1959.40 819.56,1963.87 813.72,1966.29 807.40,1966.29 801.56,1963.87 797.09,1959.40 794.67,1953.56 794.67,1947.24 797.09,1941.40 801.56,1936.93 807.40,1934.51 813.72,1934.51 819.56,1936.93 824.03,1941.40 826.45,1947.24" fill="#2d2dff"/>
<polygon points="961.79,1951.46 959.37,1957.30 954.90,1961.77 949.06,1964.19 942.74,1964.19 936.90,1961.77 932.43,1957.30 930.01,1951.46 930.01,1945.14 932.43,1939.30 936.90,1934.83 942.74,1932.41 949.06,1932.41 954.90,1934.83 959.37,1939.30 961.79,1945.14" fill="#2d2dff"/>
<polygon points="1097.13,1957.86 1094.71,1963.70 1090.24,1968.17 1084.40,1970.59 1078.08,1970.59 1072.24,1968.17 1067.77,1963.70 1065.35,1957.86 1065.35,1951.54 1067.77,1945.70 1072.24,1941.23 1078.08,1938.81 1084.40,1938.81 1090.24,1941.23 1094.71,1945.70 1097.13,1951.54" fill="#2d2dff"/>
<polygon points="1231.57,1963.06 1229.15,1968.90 1224.68,1973.37 1218.84,1975.79 1212.52,1975.79 1206.68,1973.37 1202.21,1968.90 1199.79,1963.06 1199.79,1956.74 1202.21,1950.90 1206.68,1946.43 1212.52,1944.01 1218.84,1944.01 1224.68,1946.43 1229.15,1950.90 1231.57,1956.74" fill="#2d2dff"/>
<polygon points="1366.81,1964.76 1364.39,1970.60 1359.92,1975.07 1354.08,1977.49 1347.76,1977.49 1341.92,1975.07 1337.45,1970.60 1335.03,1964.76 1335.03,1958.44 1337.45,1952.60 1341.92,1948.13 1347.76,1945.71 1354.08,1945.71 1359.92,1948.13 1364.39,1952.60 1366.81,1958.44" fill="#2d2dff"/>
<polygon points="1503.15,1968.46 1500.73,1974.30 1496.26,1978.77 1490.42,1981.19 1484.10,1981.19 1478.26,1978.77 1473.79,1974.30 1471.37,1968.46 1471.37,1962.14 1473.79,1956.30 1478.26,1951.83 1484.10,1949.41 1490.42,1949.41 1496.26,1951.83 1500.73,1956.30 1503.15,1962.14" fill="#2d2dff"/>
<polygon points="1638.49,1972.26 1636.07,1978.10 1631.60,1982.57 1625.76,1984.99 1619.44,1984.99 1613.60,1982.57 1609.13,1978.10 1606.71,1972.26 1606.71,1965.94 1609.13,1960.10 1613.60,1955.63 1619.44,1953.21 1625.76,1953.21 1631.60,1955.63 1636.07,1960.10 1638.49,1965.94" fill="#2d2dff"/>
<polygon points="268.70,2043.70 287.20,2061.50 268.70,2079.30 250.20,2061.50" fill="#555555"/>
<polygon points="404.04,1944.10 422.54,1961.90 404.04,1979.70 385.54,1961.90" fill="#555555"/>
<polygon points="538.68,1898.10 557.18,1915.90 538.68,1933.70 520.18,1915.90" fill="#555555"/>
<polygon points="673.72,1872.30 692.22,1890.10 673.72,1907.90 655.22,1890.10" fill="#555555"/>
<polygon points="810.06,1860.80 828.56,1878.60 810.06,1896.40 791.56,1878.60" fill="#555555"/>
<polygon points="945.40,1855.60 963.90,1873.40 945.40,1891.20 926.90,1873.40" fill="#555555"/>
<polygon points="1080.74,1857.40 1099.24,1875.20 1080.74,1893.00 1062.24,1875.20" fill="#555555"/>
<polygon points="1215.18,1862.80 1233.68,1880.60 1215.18,1898.40 1196.68,1880.60" fill="#555555"/>
<polygon points="1350.42,1870.10 1368.92,1887.90 1350.42,1905.70 1331.92,1887.90" fill="#555555"/>
<polygon points="1486.76,1875.80 1505.26,1893.60 1486.76,1911.40 1468.26,1893.60" fill="#555555"/>
<polygon points="1622.10,1881.00 1640.60,1898.80 1622.10,1916.60 1603.60,1898.80" fill="#555555"/>
<path d="M266.00,2765.00L271.92,2750.40L277.32,2750.40L271.40,2765.00ZM277.99,2735.40L283.91,2720.80L289.31,2720.80L283.39,2735.40ZM289.99,2705.80L295.90,2691.20L301.30,2691.20L295.39,2705.80ZM301.98,2676.20L307.90,2661.60L313.30,2661.60L307.38,2676.20ZM313.98,2646.60L319.89,2632.00L325.29,2632.00L319.38,2646.60ZM325.97,2617.00L331.89,2602.40L337.29,2602.40L331.37,2617.00ZM338.96,2587.40L346.26,2572.80L351.66,2572.80L344.36,2587.40ZM353.75,2557.80L361.04,2543.20L366.44,2543.20L359.15,2557.80ZM368.53,2528.20L375.82,2513.60L381.22,2513.60L373.93,2528.20ZM383.31,2498.60L390.60,2484.00L396.00,2484.00L388.71,2498.60ZM398.09,2469.00L401.34,2462.50L406.74,2462.50L403.49,2469.00ZM401.34,2462.50L406.07,2454.40L411.47,2454.40L406.74,2462.50ZM414.82,2439.40L423.33,2424.80L428.73,2424.80L420.22,2439.40ZM432.08,2409.80L440.60,2395.20L446.00,2395.20L437.48,2409.80ZM449.35,2380.20L457.87,2365.60L463.27,2365.60L454.75,2380.20ZM466.62,2350.60L469.01,2346.50L474.41,2346.50L472.02,2350.60ZM469.01,2346.50L476.63,2336.00L482.03,2336.00L474.41,2346.50ZM487.52,2321.00L498.13,2306.40L503.53,2306.40L492.92,2321.00ZM509.02,2291.40L519.62,2276.80L525.02,2276.80L514.42,2291.40ZM530.51,2261.80L536.68,2253.30L542.08,2253.30L535.91,2261.80ZM536.68,2253.30L542.39,2247.20L547.79,2247.20L542.08,2253.30ZM556.43,2232.20L570.09,2217.60L575.49,2217.60L561.83,2232.20ZM584.13,2202.60L597.80,2188.00L603.20,2188.00L589.53,2202.60ZM615.05,2172.63L629.65,2162.27L629.65,2167.67L615.05,2178.03ZM644.65,2151.63L659.25,2141.27L659.25,2146.67L644.65,2157.03ZM674.25,2130.63L674.72,2130.30L674.72,2135.70L674.25,2136.03ZM674.72,2130.30L688.85,2123.26L688.85,2128.66L674.72,2135.70ZM703.85,2115.79L718.45,2108.52L718.45,2113.92L703.85,2121.19ZM733.45,2101.05L742.39,2096.60L742.39,2102.00L733.45,2106.45ZM742.39,2096.60L748.05,2095.51L748.05,2100.91L742.39,2102.00ZM763.05,2092.63L777.65,2089.83L777.65,2095.23L763.05,2098.03ZM792.65,2086.94L807.25,2084.14L807.25,2089.54L792.65,2092.34ZM822.25,2084.75L836.85,2086.13L836.85,2091.53L822.25,2090.15ZM851.85,2087.55L866.45,2088.93L866.45,2094.33L851.85,2092.95ZM881.45,2091.55L896.05,2097.63L896.05,2103.03L881.45,2096.95ZM911.05,2103.89L925.65,2109.97L925.65,2115.37L911.05,2109.29ZM940.65,2116.22L945.40,2118.20L945.40,2123.60L940.65,2121.62ZM945.40,2118.20L955.25,2123.75L955.25,2129.15L945.40,2123.60ZM970.25,2132.19L984.85,2140.41L984.85,2145.81L970.25,2137.59ZM999.85,2148.86L1013.07,2156.30L1013.07,2161.70L999.85,2154.26ZM1013.07,2156.30L1014.45,2157.37L1014.45,2162.77L1013.07,2161.70ZM1029.45,2169.06L1044.05,2180.43L1044.05,2185.83L1029.45,2174.46ZM1059.05,2192.11L1073.65,2203.48L1073.65,2208.88L1059.05,2197.51ZM1088.65,2216.00L1103.25,2228.93L1103.25,2234.33L1088.65,2221.40ZM1118.25,2242.20L1132.85,2255.13L1132.85,2260.53L1118.25,2247.60ZM1147.85,2268.40L1148.41,2268.90L1148.41,2274.30L1147.85,2273.80ZM1148.41,2268.90L1162.45,2281.02L1162.45,2286.42L1148.41,2274.30ZM1177.45,2293.96L1192.05,2306.56L1192.05,2311.96L1177.45,2299.36ZM1207.05,2319.51L1216.08,2327.30L1216.08,2332.70L1207.05,2324.91ZM1216.08,2327.30L1221.65,2331.89L1221.65,2337.29L1216.08,2332.70ZM1236.65,2344.26L1251.25,2356.30L1251.25,2361.70L1236.65,2349.66ZM1266.25,2368.67L1280.85,2380.71L1280.85,2386.11L1266.25,2374.07ZM1295.85,2390.95L1310.45,2400.42L1310.45,2405.82L1295.85,2396.35ZM1325.45,2410.15L1340.05,2419.62L1340.05,2425.02L1325.45,2415.55ZM1355.05,2428.96L1369.65,2436.83L1369.65,2442.23L1355.05,2434.36ZM1384.65,2444.92L1399.25,2452.80L1399.25,2458.20L1384.65,2450.32ZM1414.25,2460.89L1419.09,2463.50L1419.09,2468.90L1414.25,2466.29ZM1419.09,2463.50L1428.85,2468.48L1428.85,2473.88L1419.09,2468.90ZM1443.85,2476.12L1458.45,2483.57L1458.45,2488.97L1443.85,2481.52ZM1473.45,2491.21L1486.76,2498.00L1486.76,2503.40L1473.45,2496.61ZM1486.76,2498.00L1488.05,2498.70L1488.05,2504.10L1486.76,2503.40ZM1503.05,2506.81L1517.65,2514.71L1517.65,2520.11L1503.05,2512.21ZM1532.65,2522.82L1547.25,2530.72L1547.25,2536.12L1532.65,2528.22ZM1562.25,2538.84L1576.85,2546.76L1576.85,2552.16L1562.25,2544.24ZM1591.85,2554.89L1606.45,2562.81L1606.45,2568.21L1591.85,2560.29ZM1621.45,2570.95L1622.10,2571.30L1622.10,2576.70L1621.45,2576.35Z" fill="#cf0000"/>
<path d="M266.00,2491.50L275.85,2476.90L281.25,2476.90L271.40,2491.50ZM285.97,2461.90L295.82,2447.30L301.22,2447.30L291.37,2461.90ZM305.94,2432.30L315.79,2417.70L321.19,2417.70L311.34,2432.30ZM325.91,2402.70L333.67,2391.20L339.07,2391.20L331.31,2402.70ZM333.67,2391.20L336.37,2388.10L341.77,2388.10L339.07,2391.20ZM349.45,2373.10L362.19,2358.50L367.59,2358.50L354.85,2373.10ZM375.27,2343.50L388.00,2328.90L393.40,2328.90L380.67,2343.50ZM401.08,2313.90L401.34,2313.60L406.74,2313.60L406.48,2313.90ZM404.04,2310.90L418.34,2298.77L418.34,2304.17L404.04,2316.30ZM433.34,2286.05L447.94,2273.66L447.94,2279.06L433.34,2291.45ZM462.94,2260.94L471.71,2253.50L471.71,2258.90L462.94,2266.34ZM471.71,2253.50L477.54,2249.26L477.54,2254.66L471.71,2258.90ZM492.54,2238.36L507.14,2227.74L507.14,2233.14L492.54,2243.76ZM522.14,2216.83L536.74,2206.22L536.74,2211.62L522.14,2222.23ZM551.74,2197.65L566.34,2189.80L566.34,2195.20L551.74,2203.05ZM581.34,2181.73L595.94,2173.88L595.94,2179.28L581.34,2187.13ZM610.94,2166.26L625.54,2160.09L625.54,2165.49L610.94,2171.66ZM640.54,2153.75L655.14,2147.58L655.14,2152.98L640.54,2159.15ZM670.14,2141.24L674.72,2139.30L674.72,2144.70L670.14,2146.64ZM674.72,2139.30L684.74,2136.47L684.74,2141.87L674.72,2144.70ZM699.74,2132.24L714.34,2128.12L714.34,2133.52L699.74,2137.64ZM729.34,2123.88L742.39,2120.20L742.39,2125.60L729.34,2129.28ZM742.39,2120.20L743.94,2119.97L743.94,2125.37L742.39,2125.60ZM758.94,2117.73L773.54,2115.55L773.54,2120.95L758.94,2123.13ZM788.54,2113.31L803.14,2111.13L803.14,2116.53L788.54,2118.71ZM818.14,2109.93L832.74,2109.63L832.74,2115.03L818.14,2115.33ZM847.74,2109.32L862.34,2109.02L862.34,2114.42L847.74,2114.72ZM877.34,2108.71L877.73,2108.70L877.73,2114.10L877.34,2114.11ZM877.73,2108.70L891.94,2109.73L891.94,2115.13L877.73,2114.10ZM906.94,2110.82L921.54,2111.87L921.54,2117.27L906.94,2116.22ZM936.54,2112.96L945.40,2113.60L945.40,2119.00L936.54,2118.36ZM945.40,2113.60L951.14,2114.63L951.14,2120.03L945.40,2119.00ZM966.14,2117.34L980.74,2119.97L980.74,2125.37L966.14,2122.74ZM995.74,2122.68L1010.34,2125.31L1010.34,2130.71L995.74,2128.08ZM1025.34,2128.27L1039.94,2131.20L1039.94,2136.60L1025.34,2133.67ZM1054.94,2134.21L1069.54,2137.15L1069.54,2142.55L1054.94,2139.61ZM1084.54,2140.66L1099.14,2145.49L1099.14,2150.89L1084.54,2146.06ZM1114.14,2150.46L1128.74,2155.29L1128.74,2160.69L1114.14,2155.86ZM1143.74,2160.25L1148.41,2161.80L1148.41,2167.20L1143.74,2165.65ZM1148.41,2161.80L1158.34,2165.69L1158.34,2171.09L1148.41,2167.20ZM1173.34,2171.56L1187.94,2177.28L1187.94,2182.68L1173.34,2176.96ZM1202.94,2183.15L1216.08,2188.30L1216.08,2193.70L1202.94,2188.55ZM1216.08,2188.30L1217.54,2188.95L1217.54,2194.35L1216.08,2193.70ZM1232.54,2195.65L1247.14,2202.16L1247.14,2207.56L1232.54,2201.05ZM1262.14,2208.86L1276.74,2215.37L1276.74,2220.77L1262.14,2214.26ZM1291.74,2222.30L1306.34,2229.25L1306.34,2234.65L1291.74,2227.70ZM1321.34,2236.39L1335.94,2243.33L1335.94,2248.73L1321.34,2241.79ZM1350.94,2250.47L1351.42,2250.70L1351.42,2256.10L1350.94,2255.87ZM1351.42,2250.70L1365.54,2257.88L1365.54,2263.28L1351.42,2256.10ZM1380.54,2265.50L1395.14,2272.93L1395.14,2278.33L1380.54,2270.90ZM1410.14,2280.55L1419.09,2285.10L1419.09,2290.50L1410.14,2285.95ZM1419.09,2285.10L1424.74,2287.98L1424.74,2293.38L1419.09,2290.50ZM1439.74,2295.63L1454.34,2303.07L1454.34,2308.47L1439.74,2301.03ZM1469.34,2310.72L1483.94,2318.16L1483.94,2323.56L1469.34,2316.12ZM1498.94,2325.81L1513.54,2333.25L1513.54,2338.65L1498.94,2331.21ZM1528.54,2340.90L1543.14,2348.34L1543.14,2353.74L1528.54,2346.30ZM1558.14,2356.00L1572.74,2363.46L1572.74,2368.86L1558.14,2361.40ZM1587.74,2371.13L1602.34,2378.60L1602.34,2384.00L1587.74,2376.53ZM1617.34,2386.27L1622.10,2388.70L1622.10,2394.10L1617.34,2391.67Z" fill="#00cf00"/>
<path d="M266.00,2181.00L279.59,2166.40L284.99,2166.40L271.40,2181.00ZM293.55,2151.40L307.14,2136.80L312.54,2136.80L298.95,2151.40ZM321.10,2121.80L333.67,2108.30L339.07,2108.30L326.50,2121.80ZM336.37,2105.60L337.47,2104.89L337.47,2110.29L336.37,2111.00ZM352.47,2095.18L367.07,2085.73L367.07,2091.13L352.47,2100.58ZM382.07,2076.02L396.67,2066.57L396.67,2071.97L382.07,2081.42ZM411.67,2058.02L426.27,2050.80L426.27,2056.20L411.67,2063.42ZM441.27,2043.37L455.87,2036.14L455.87,2041.54L441.27,2048.77ZM470.87,2028.72L471.71,2028.30L471.71,2033.70L470.87,2034.12ZM471.71,2028.30L485.47,2022.61L485.47,2028.01L471.71,2033.70ZM500.47,2016.40L515.07,2010.36L515.07,2015.76L500.47,2021.80ZM530.07,2004.15L539.38,2000.30L539.38,2005.70L530.07,2009.55ZM539.38,2000.30L544.67,1998.38L544.67,2003.78L539.38,2005.70ZM559.67,1992.92L574.27,1987.62L574.27,1993.02L559.67,1998.32ZM589.27,1982.16L603.87,1976.86L603.87,1982.26L589.27,1987.56ZM618.87,1972.91L633.47,1969.45L633.47,1974.85L618.87,1978.31ZM648.47,1965.91L663.07,1962.45L663.07,1967.85L648.47,1971.31ZM678.07,1958.99L692.67,1955.88L692.67,1961.28L678.07,1964.39ZM707.67,1952.69L722.27,1949.58L722.27,1954.98L707.67,1958.09ZM737.27,1946.39L742.39,1945.30L742.39,1950.70L737.27,1951.79ZM742.39,1945.30L751.87,1944.10L751.87,1949.50L742.39,1950.70ZM766.87,1942.19L781.47,1940.33L781.47,1945.73L766.87,1947.59ZM796.47,1938.43L810.06,1936.70L810.06,1942.10L796.47,1943.83ZM810.06,1936.70L811.07,1936.61L811.07,1942.01L810.06,1942.10ZM826.07,1935.35L840.67,1934.12L840.67,1939.52L826.07,1940.75ZM855.67,1932.86L870.27,1931.63L870.27,1937.03L855.67,1938.26ZM885.27,1930.61L899.87,1929.85L899.87,1935.25L885.27,1936.01ZM914.87,1929.08L929.47,1928.32L929.47,1933.72L914.87,1934.48ZM944.47,1927.55L945.40,1927.50L945.40,1932.90L944.47,1932.95ZM945.40,1927.50L959.07,1927.22L959.07,1932.62L945.40,1932.90ZM974.07,1926.91L988.67,1926.60L988.67,1932.00L974.07,1932.31ZM1003.67,1926.29L1013.07,1926.10L1013.07,1931.50L1003.67,1931.69ZM1013.07,1926.10L1018.27,1926.10L1018.27,1931.50L1013.07,1931.50ZM1033.27,1926.10L1047.87,1926.10L1047.87,1931.50L1033.27,1931.50ZM1062.87,1926.10L1077.47,1926.10L1077.47,1931.50L1062.87,1931.50ZM1092.47,1926.10L1107.07,1926.10L1107.07,1931.50L1092.47,1931.50ZM1122.07,1926.10L1136.67,1926.10L1136.67,1931.50L1122.07,1931.50ZM1151.67,1926.20L1166.27,1926.63L1166.27,1932.03L1151.67,1931.60ZM1181.27,1927.07L1195.87,1927.50L1195.87,1932.90L1181.27,1932.47ZM1210.87,1927.95L1216.08,1928.10L1216.08,1933.50L1210.87,1933.35ZM1216.08,1928.10L1225.47,1928.54L1225.47,1933.94L1216.08,1933.50ZM1240.47,1929.25L1255.07,1929.94L1255.07,1935.34L1240.47,1934.65ZM1270.07,1930.65L1283.75,1931.30L1283.75,1936.70L1270.07,1936.05ZM1283.75,1931.30L1284.67,1931.33L1284.67,1936.73L1283.75,1936.70ZM1299.67,1931.77L1314.27,1932.20L1314.27,1937.60L1299.67,1937.17ZM1329.27,1932.65L1343.87,1933.08L1343.87,1938.48L1329.27,1938.05ZM1358.87,1933.67L1373.47,1934.41L1373.47,1939.81L1358.87,1939.07ZM1388.47,1935.16L1403.07,1935.90L1403.07,1941.30L1388.47,1940.56ZM1418.07,1936.65L1419.09,1936.70L1419.09,1942.10L1418.07,1942.05ZM1419.09,1936.70L1432.67,1937.74L1432.67,1943.14L1419.09,1942.10ZM1447.67,1938.90L1462.27,1940.02L1462.27,1945.42L1447.67,1944.30ZM1477.27,1941.17L1486.76,1941.90L1486.76,1947.30L1477.27,1946.57ZM1486.76,1941.90L1491.87,1942.22L1491.87,1947.62L1486.76,1947.30ZM1506.87,1943.18L1521.47,1944.11L1521.47,1949.51L1506.87,1948.58ZM1536.47,1945.06L1551.07,1945.99L1551.07,1951.39L1536.47,1950.46ZM1566.07,1946.94L1580.67,1947.87L1580.67,1953.27L1566.07,1952.34ZM1595.67,1948.82L1610.27,1949.75L1610.27,1955.15L1595.67,1954.22Z" fill="#2d2dff"/>
<path d="M266.00,2056.80L280.15,2042.20L285.55,2042.20L271.40,2056.80ZM294.70,2027.20L308.85,2012.60L314.25,2012.60L300.10,2027.20ZM323.39,1997.60L333.67,1987.00L339.07,1987.00L328.79,1997.60ZM336.37,1984.30L340.37,1982.14L340.37,1987.54L336.37,1989.70ZM355.37,1974.05L369.97,1966.18L369.97,1971.58L355.37,1979.45ZM384.97,1958.09L399.57,1950.21L399.57,1955.61L384.97,1963.49ZM414.57,1942.15L429.17,1934.32L429.17,1939.72L414.57,1947.55ZM444.17,1926.27L458.77,1918.44L458.77,1923.84L444.17,1931.67ZM473.77,1910.81L488.37,1905.91L488.37,1911.31L473.77,1916.21ZM503.37,1900.88L517.97,1895.98L517.97,1901.38L503.37,1906.28ZM532.97,1890.95L539.38,1888.80L539.38,1894.20L532.97,1896.35ZM539.38,1888.80L547.57,1886.26L547.57,1891.66L539.38,1894.20ZM562.57,1881.60L577.17,1877.07L577.17,1882.47L562.57,1887.00ZM592.17,1872.42L606.77,1867.89L606.77,1873.29L592.17,1877.82ZM621.77,1863.88L636.37,1860.00L636.37,1865.40L621.77,1869.28ZM651.37,1856.01L665.97,1852.13L665.97,1857.53L651.37,1861.41ZM680.97,1848.74L695.57,1846.26L695.57,1851.66L680.97,1854.14ZM710.57,1843.71L725.17,1841.23L725.17,1846.63L710.57,1849.11ZM740.17,1838.68L742.39,1838.30L742.39,1843.70L740.17,1844.08ZM742.39,1838.30L754.77,1836.73L754.77,1842.13L742.39,1843.70ZM769.77,1834.82L784.37,1832.96L784.37,1838.36L769.77,1840.22ZM799.37,1831.06L810.06,1829.70L810.06,1835.10L799.37,1836.46ZM810.06,1829.70L813.97,1829.23L813.97,1834.63L810.06,1835.10ZM828.97,1827.44L843.57,1825.69L843.57,1831.09L828.97,1832.84ZM858.57,1823.89L873.17,1822.15L873.17,1827.55L858.57,1829.29ZM888.17,1820.84L902.77,1819.79L902.77,1825.19L888.17,1826.24ZM917.77,1818.70L932.37,1817.64L932.37,1823.04L917.77,1824.10ZM947.37,1816.59L961.97,1815.75L961.97,1821.15L947.37,1821.99ZM976.97,1814.88L991.57,1814.04L991.57,1819.44L976.97,1820.28ZM1006.57,1813.17L1013.07,1812.80L1013.07,1818.20L1006.57,1818.57ZM1013.07,1812.80L1021.17,1812.31L1021.17,1817.71L1013.07,1818.20ZM1036.17,1811.40L1050.77,1810.52L1050.77,1815.92L1036.17,1816.80ZM1065.77,1809.61L1080.37,1808.72L1080.37,1814.12L1065.77,1815.01ZM1095.37,1808.18L1109.97,1807.66L1109.97,1813.06L1095.37,1813.58ZM1124.97,1807.13L1139.57,1806.61L1139.57,1812.01L1124.97,1812.53ZM1154.57,1806.23L1169.17,1806.05L1169.17,1811.45L1154.57,1811.63ZM1184.17,1805.88L1198.77,1805.70L1198.77,1811.10L1184.17,1811.28ZM1213.77,1805.53L1216.08,1805.50L1216.08,1810.90L1213.77,1810.93ZM1216.08,1805.50L1228.37,1805.50L1228.37,1810.90L1216.08,1810.90ZM1243.37,1805.50L1257.97,1805.50L1257.97,1810.90L1243.37,1810.90ZM1272.97,1805.50L1283.75,1805.50L1283.75,1810.90L1272.97,1810.90ZM1283.75,1805.50L1287.57,1805.50L1287.57,1810.90L1283.75,1810.90ZM1302.57,1805.50L1317.17,1805.50L1317.17,1810.90L1302.57,1810.90ZM1332.17,1805.50L1346.77,1805.50L1346.77,1810.90L1332.17,1810.90ZM1361.77,1805.50L1376.37,1805.50L1376.37,1810.90L1361.77,1810.90ZM1391.37,1805.50L1405.97,1805.50L1405.97,1810.90L1391.37,1810.90ZM1420.97,1805.50L1435.57,1805.50L1435.57,1810.90L1420.97,1810.90ZM1450.57,1805.50L1465.17,1805.50L1465.17,1810.90L1450.57,1810.90ZM1480.17,1805.50L1486.76,1805.50L1486.76,1810.90L1480.17,1810.90ZM1486.76,1805.50L1494.77,1805.71L1494.77,1811.11L1486.76,1810.90ZM1509.77,1806.11L1524.37,1806.50L1524.37,1811.90L1509.77,1811.51ZM1539.37,1806.90L1553.97,1807.29L1553.97,1812.69L1539.37,1812.30ZM1568.97,1807.34L1583.57,1807.39L1583.57,1812.79L1568.97,1812.74ZM1598.57,1807.43L1613.17,1807.47L1613.17,1812.87L1598.57,1812.83Z" fill="#000000"/>
<rect x="657.30" y="2395.50" width="25.80" height="25.80" fill="#cf0000"/>
<text class="b lg" x="813.30" y="2422.50" font-size="48" textLength="288.5" lengthAdjust="spacingAndGlyphs">T=100K (QC)</text>
<polygon points="671.20,2449.10 685.50,2474.90 656.90,2474.90" fill="#00cf00"/>
<text class="b lg" x="813.30" y="2481.60" font-size="48" textLength="288.5" lengthAdjust="spacingAndGlyphs">T=300K (QC)</text>
<polygon points="686.59,2526.56 684.17,2532.40 679.70,2536.87 673.86,2539.29 667.54,2539.29 661.70,2536.87 657.23,2532.40 654.81,2526.56 654.81,2520.24 657.23,2514.40 661.70,2509.93 667.54,2507.51 673.86,2507.51 679.70,2509.93 684.17,2514.40 686.59,2520.24" fill="#2d2dff"/>
<text class="b lg" x="813.30" y="2538.70" font-size="48" textLength="312" lengthAdjust="spacingAndGlyphs">T=3000K (QC)</text>
<polygon points="670.20,2563.40 688.70,2581.20 670.20,2599.00 651.70,2581.20" fill="#555555"/>
<text class="b lg" x="813.30" y="2596.30" font-size="48" textLength="312" lengthAdjust="spacingAndGlyphs">T=7000K (QC)</text>
<path d="M562.90,2637.45L577.50,2637.45L577.50,2642.95L562.90,2642.95ZM592.50,2637.45L607.10,2637.45L607.10,2642.95L592.50,2642.95ZM622.10,2637.45L636.70,2637.45L636.70,2642.95L622.10,2642.95ZM651.70,2637.45L666.30,2637.45L666.30,2642.95L651.70,2642.95ZM681.30,2637.45L695.90,2637.45L695.90,2642.95L681.30,2642.95ZM710.90,2637.45L725.50,2637.45L725.50,2642.95L710.90,2642.95ZM740.50,2637.45L755.10,2637.45L755.10,2642.95L740.50,2642.95ZM770.10,2637.45L779.00,2637.45L779.00,2642.95L770.10,2642.95Z" fill="#cf0000"/>
<text class="b lg" x="813.30" y="2653.00" font-size="48" textLength="413" lengthAdjust="spacingAndGlyphs">T=100K (analytical)</text>
<path d="M562.90,2694.85L577.50,2694.85L577.50,2700.35L562.90,2700.35ZM592.50,2694.85L607.10,2694.85L607.10,2700.35L592.50,2700.35ZM622.10,2694.85L636.70,2694.85L636.70,2700.35L622.10,2700.35ZM651.70,2694.85L666.30,2694.85L666.30,2700.35L651.70,2700.35ZM681.30,2694.85L695.90,2694.85L695.90,2700.35L681.30,2700.35ZM710.90,2694.85L725.50,2694.85L725.50,2700.35L710.90,2700.35ZM740.50,2694.85L755.10,2694.85L755.10,2700.35L740.50,2700.35ZM770.10,2694.85L779.00,2694.85L779.00,2700.35L770.10,2700.35Z" fill="#00cf00"/>
<text class="b lg" x="813.30" y="2711.40" font-size="48" textLength="413" lengthAdjust="spacingAndGlyphs">T=300K (analytical)</text>
<path d="M562.90,2752.05L577.50,2752.05L577.50,2757.55L562.90,2757.55ZM592.50,2752.05L607.10,2752.05L607.10,2757.55L592.50,2757.55ZM622.10,2752.05L636.70,2752.05L636.70,2757.55L622.10,2757.55ZM651.70,2752.05L666.30,2752.05L666.30,2757.55L651.70,2757.55ZM681.30,2752.05L695.90,2752.05L695.90,2757.55L681.30,2757.55ZM710.90,2752.05L725.50,2752.05L725.50,2757.55L710.90,2757.55ZM740.50,2752.05L755.10,2752.05L755.10,2757.55L740.50,2757.55ZM770.10,2752.05L779.00,2752.05L779.00,2757.55L770.10,2757.55Z" fill="#2d2dff"/>
<text class="b lg" x="813.30" y="2769.60" font-size="48" textLength="437" lengthAdjust="spacingAndGlyphs">T=3000K (analytical)</text>
<path d="M562.90,2809.25L577.50,2809.25L577.50,2814.75L562.90,2814.75ZM592.50,2809.25L607.10,2809.25L607.10,2814.75L592.50,2814.75ZM622.10,2809.25L636.70,2809.25L636.70,2814.75L622.10,2814.75ZM651.70,2809.25L666.30,2809.25L666.30,2814.75L651.70,2814.75ZM681.30,2809.25L695.90,2809.25L695.90,2814.75L681.30,2814.75ZM710.90,2809.25L725.50,2809.25L725.50,2814.75L710.90,2814.75ZM740.50,2809.25L755.10,2809.25L755.10,2814.75L740.50,2814.75ZM770.10,2809.25L779.00,2809.25L779.00,2814.75L770.10,2814.75Z" fill="#000000"/>
<text class="b lg" x="813.30" y="2826.80" font-size="48" textLength="437" lengthAdjust="spacingAndGlyphs">T=7000K (analytical)</text>
<g fill="#000"><rect x="272.20" y="1846.30" width="15.00" height="1.8"/><rect x="1603.60" y="1846.30" width="17.00" height="1.8"/><rect x="272.20" y="1810.07" width="15.00" height="1.8"/><rect x="1603.60" y="1810.07" width="17.00" height="1.8"/><rect x="272.20" y="1784.37" width="15.00" height="1.8"/><rect x="1603.60" y="1784.37" width="17.00" height="1.8"/><rect x="272.20" y="1764.43" width="15.00" height="1.8"/><rect x="1603.60" y="1764.43" width="17.00" height="1.8"/><rect x="272.20" y="1748.14" width="15.00" height="1.8"/><rect x="1603.60" y="1748.14" width="17.00" height="1.8"/><rect x="272.20" y="1734.37" width="15.00" height="1.8"/><rect x="1603.60" y="1734.37" width="17.00" height="1.8"/><rect x="272.20" y="1722.44" width="15.00" height="1.8"/><rect x="1603.60" y="1722.44" width="17.00" height="1.8"/><rect x="272.20" y="1711.91" width="15.00" height="1.8"/><rect x="1603.60" y="1711.91" width="17.00" height="1.8"/><rect x="272.20" y="1906.53" width="28.00" height="5.2"/><rect x="1590.60" y="1906.53" width="30.00" height="5.2"/><rect x="272.20" y="2052.03" width="15.00" height="1.8"/><rect x="1603.60" y="2052.03" width="17.00" height="1.8"/><rect x="272.20" y="2015.81" width="15.00" height="1.8"/><rect x="1603.60" y="2015.81" width="17.00" height="1.8"/><rect x="272.20" y="1990.10" width="15.00" height="1.8"/><rect x="1603.60" y="1990.10" width="17.00" height="1.8"/><rect x="272.20" y="1970.17" width="15.00" height="1.8"/><rect x="1603.60" y="1970.17" width="17.00" height="1.8"/><rect x="272.20" y="1953.88" width="15.00" height="1.8"/><rect x="1603.60" y="1953.88" width="17.00" height="1.8"/><rect x="272.20" y="1940.10" width="15.00" height="1.8"/><rect x="1603.60" y="1940.10" width="17.00" height="1.8"/><rect x="272.20" y="1928.17" width="15.00" height="1.8"/><rect x="1603.60" y="1928.17" width="17.00" height="1.8"/><rect x="272.20" y="1917.65" width="15.00" height="1.8"/><rect x="1603.60" y="1917.65" width="17.00" height="1.8"/><rect x="272.20" y="2112.27" width="28.00" height="5.2"/><rect x="1590.60" y="2112.27" width="30.00" height="5.2"/><rect x="272.20" y="2257.77" width="15.00" height="1.8"/><rect x="1603.60" y="2257.77" width="17.00" height="1.8"/><rect x="272.20" y="2221.54" width="15.00" height="1.8"/><rect x="1603.60" y="2221.54" width="17.00" height="1.8"/><rect x="272.20" y="2195.84" width="15.00" height="1.8"/><rect x="1603.60" y="2195.84" width="17.00" height="1.8"/><rect x="272.20" y="2175.90" width="15.00" height="1.8"/><rect x="1603.60" y="2175.90" width="17.00" height="1.8"/><rect x="272.20" y="2159.61" width="15.00" height="1.8"/><rect x="1603.60" y="2159.61" width="17.00" height="1.8"/><rect x="272.20" y="2145.84" width="15.00" height="1.8"/><rect x="1603.60" y="2145.84" width="17.00" height="1.8"/><rect x="272.20" y="2133.90" width="15.00" height="1.8"/><rect x="1603.60" y="2133.90" width="17.00" height="1.8"/><rect x="272.20" y="2123.38" width="15.00" height="1.8"/><rect x="1603.60" y="2123.38" width="17.00" height="1.8"/><rect x="272.20" y="2318.00" width="28.00" height="5.2"/><rect x="1590.60" y="2318.00" width="30.00" height="5.2"/><rect x="272.20" y="2463.50" width="15.00" height="1.8"/><rect x="1603.60" y="2463.50" width="17.00" height="1.8"/><rect x="272.20" y="2427.27" width="15.00" height="1.8"/><rect x="1603.60" y="2427.27" width="17.00" height="1.8"/><rect x="272.20" y="2401.57" width="15.00" height="1.8"/><rect x="1603.60" y="2401.57" width="17.00" height="1.8"/><rect x="272.20" y="2381.63" width="15.00" height="1.8"/><rect x="1603.60" y="2381.63" width="17.00" height="1.8"/><rect x="272.20" y="2365.34" width="15.00" height="1.8"/><rect x="1603.60" y="2365.34" width="17.00" height="1.8"/><rect x="272.20" y="2351.57" width="15.00" height="1.8"/><rect x="1603.60" y="2351.57" width="17.00" height="1.8"/><rect x="272.20" y="2339.64" width="15.00" height="1.8"/><rect x="1603.60" y="2339.64" width="17.00" height="1.8"/><rect x="272.20" y="2329.11" width="15.00" height="1.8"/><rect x="1603.60" y="2329.11" width="17.00" height="1.8"/><rect x="272.20" y="2523.73" width="28.00" height="5.2"/><rect x="1590.60" y="2523.73" width="30.00" height="5.2"/><rect x="272.20" y="2669.23" width="15.00" height="1.8"/><rect x="1603.60" y="2669.23" width="17.00" height="1.8"/><rect x="272.20" y="2633.01" width="15.00" height="1.8"/><rect x="1603.60" y="2633.01" width="17.00" height="1.8"/><rect x="272.20" y="2607.30" width="15.00" height="1.8"/><rect x="1603.60" y="2607.30" width="17.00" height="1.8"/><rect x="272.20" y="2587.37" width="15.00" height="1.8"/><rect x="1603.60" y="2587.37" width="17.00" height="1.8"/><rect x="272.20" y="2571.08" width="15.00" height="1.8"/><rect x="1603.60" y="2571.08" width="17.00" height="1.8"/><rect x="272.20" y="2557.30" width="15.00" height="1.8"/><rect x="1603.60" y="2557.30" width="17.00" height="1.8"/><rect x="272.20" y="2545.37" width="15.00" height="1.8"/><rect x="1603.60" y="2545.37" width="17.00" height="1.8"/><rect x="272.20" y="2534.85" width="15.00" height="1.8"/><rect x="1603.60" y="2534.85" width="17.00" height="1.8"/><rect x="272.20" y="2729.47" width="28.00" height="5.2"/><rect x="1590.60" y="2729.47" width="30.00" height="5.2"/><rect x="272.20" y="2874.97" width="15.00" height="1.8"/><rect x="1603.60" y="2874.97" width="17.00" height="1.8"/><rect x="272.20" y="2838.74" width="15.00" height="1.8"/><rect x="1603.60" y="2838.74" width="17.00" height="1.8"/><rect x="272.20" y="2813.04" width="15.00" height="1.8"/><rect x="1603.60" y="2813.04" width="17.00" height="1.8"/><rect x="272.20" y="2793.10" width="15.00" height="1.8"/><rect x="1603.60" y="2793.10" width="17.00" height="1.8"/><rect x="272.20" y="2776.81" width="15.00" height="1.8"/><rect x="1603.60" y="2776.81" width="17.00" height="1.8"/><rect x="272.20" y="2763.04" width="15.00" height="1.8"/><rect x="1603.60" y="2763.04" width="17.00" height="1.8"/><rect x="272.20" y="2751.10" width="15.00" height="1.8"/><rect x="1603.60" y="2751.10" width="17.00" height="1.8"/><rect x="272.20" y="2740.58" width="15.00" height="1.8"/><rect x="1603.60" y="2740.58" width="17.00" height="1.8"/><rect x="335.67" y="2920.30" width="1.8" height="15.00"/><rect x="403.34" y="2920.30" width="1.8" height="15.00"/><rect x="471.01" y="2920.30" width="1.8" height="15.00"/><rect x="538.68" y="2920.30" width="1.8" height="15.00"/><rect x="605.25" y="2905.30" width="5.2" height="30.00"/><rect x="674.02" y="2920.30" width="1.8" height="15.00"/><rect x="741.69" y="2920.30" width="1.8" height="15.00"/><rect x="809.36" y="2920.30" width="1.8" height="15.00"/><rect x="877.03" y="2920.30" width="1.8" height="15.00"/><rect x="943.60" y="2905.30" width="5.2" height="30.00"/><rect x="1012.37" y="2920.30" width="1.8" height="15.00"/><rect x="1080.04" y="2920.30" width="1.8" height="15.00"/><rect x="1147.71" y="2920.30" width="1.8" height="15.00"/><rect x="1215.38" y="2920.30" width="1.8" height="15.00"/><rect x="1281.95" y="2905.30" width="5.2" height="30.00"/><rect x="1350.72" y="2920.30" width="1.8" height="15.00"/><rect x="1418.39" y="2920.30" width="1.8" height="15.00"/><rect x="1486.06" y="2920.30" width="1.8" height="15.00"/><rect x="1553.73" y="2920.30" width="1.8" height="15.00"/></g>
<g fill="#000"><rect x="267.20" y="1700.90" width="5.0" height="1239.40"/><rect x="1620.60" y="1700.90" width="5.0" height="1239.40"/><rect x="267.20" y="1700.90" width="1358.40" height="5.0"/><rect x="267.20" y="2935.30" width="1358.40" height="5.0"/></g>
<g class="tl"><text transform="translate(138.2,1725.60) scale(0.92,1)" font-size="67" letter-spacing="-2">10</text><text x="198.9" y="1694.40" font-size="38.6" letter-spacing="0.5">-10</text><text transform="translate(138.2,1931.33) scale(0.92,1)" font-size="67" letter-spacing="-2">10</text><text x="198.9" y="1900.13" font-size="38.6" letter-spacing="0.5">-11</text><text transform="translate(138.2,2137.07) scale(0.92,1)" font-size="67" letter-spacing="-2">10</text><text x="198.9" y="2105.87" font-size="38.6" letter-spacing="0.5">-12</text><text transform="translate(138.2,2342.80) scale(0.92,1)" font-size="67" letter-spacing="-2">10</text><text x="198.9" y="2311.60" font-size="38.6" letter-spacing="0.5">-13</text><text transform="translate(138.2,2548.53) scale(0.92,1)" font-size="67" letter-spacing="-2">10</text><text x="198.9" y="2517.33" font-size="38.6" letter-spacing="0.5">-14</text><text transform="translate(138.2,2754.27) scale(0.92,1)" font-size="67" letter-spacing="-2">10</text><text x="198.9" y="2723.07" font-size="38.6" letter-spacing="0.5">-15</text><text transform="translate(138.2,2960.00) scale(0.92,1)" font-size="67" letter-spacing="-2">10</text><text x="198.9" y="2928.80" font-size="38.6" letter-spacing="0.5">-16</text><text transform="translate(267.90,2997.40) scale(0.95,1)" font-size="67" text-anchor="middle">0</text><text transform="translate(606.25,2997.40) scale(0.9,1)" font-size="67" text-anchor="middle">5</text><text transform="translate(944.60,2997.40) scale(0.92,1)" font-size="67" text-anchor="middle">10</text><text transform="translate(1282.95,2997.40) scale(0.92,1)" font-size="67" text-anchor="middle">15</text><text transform="translate(1620.50,2997.40) scale(1.0,1)" font-size="67" text-anchor="middle">20</text></g>
<text class="b" x="944.90" y="3061.70" font-size="64" text-anchor="middle" textLength="545" lengthAdjust="spacingAndGlyphs">v, quantum number</text>
<text class="b" transform="translate(124.6,2321.20) rotate(-90)" font-size="64" text-anchor="middle" textLength="480" lengthAdjust="spacingAndGlyphs">k(1,v|0,v+1)/cm<tspan font-size="37" dy="-33">3</tspan><tspan dy="33">/s</tspan></text>
</svg>
</body></html>
